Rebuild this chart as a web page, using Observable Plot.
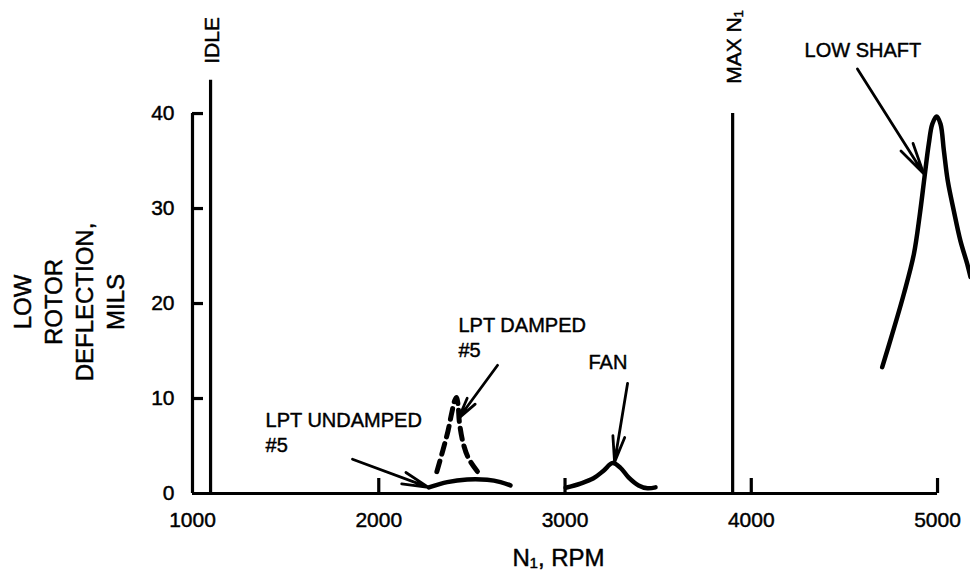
<!DOCTYPE html>
<html>
<head>
<meta charset="utf-8">
<script src="https://cdn.jsdelivr.net/npm/d3@7"></script>
<script src="https://cdn.jsdelivr.net/npm/@observablehq/plot@0.6"></script>
<style>
  body { margin: 0; background: #fff; }
  #chart svg { display: block; }
</style>
</head>
<body>
<div id="chart"></div>
<script>
// ---- tick values / labels ----
const xTicks = [1000, 2000, 3000, 4000, 5000];
const yTicks = [0, 10, 20, 30, 40];

// ---- curves (RPM, deflection in mils) ----
const lowShaft = [
  [4703, 13.3], [4757, 16.8], [4819, 21.0], [4873, 25.2], [4905, 29.4],
  [4930, 33.3], [4953, 36.8], [4972, 38.9], [4995, 39.7], [5016, 38.9],
  [5034, 36.1], [5055, 32.9], [5087, 29.8], [5123, 26.6], [5159, 24.2], [5177, 22.8]
];
const fan = [
  [3003, 0.6], [3083, 1.05], [3153, 1.6], [3207, 2.4], [3255, 3.2],
  [3298, 2.7], [3341, 1.7], [3395, 0.85], [3443, 0.55], [3486, 0.65]
];
const lptUndamped = [
  [2269, 0.65], [2368, 1.2], [2475, 1.47], [2582, 1.44], [2654, 1.2], [2707, 0.85]
];
const lptDamped = [
  [2312, 2.3], [2345, 4.6], [2372, 6.6], [2392, 8.5], [2408, 9.8], [2418, 10.1],
  [2426, 9.3], [2433, 7.5], [2452, 5.4], [2482, 3.7], [2530, 2.3]
];

// ---- reference lines ----
const refRpm = [1097, 3900];
const refTop = [43.5, 40];
const refLabel = ["IDLE", "MAX N\u2081"];
const refLabelY = [47.7, 47.0];

// ---- annotations ----
const noteText = ["LOW SHAFT", "LPT DAMPED", "#5", "LPT UNDAMPED", "#5", "FAN"];
const noteX = [4286, 2428, 2428, 1392, 1392, 3126];
const noteY = [46.6, 17.7, 15.0, 7.7, 5.0, 13.8];

const arrowFrom = [[4570, 44.7], [2638, 13.5], [1859, 3.6], [3336, 11.6]];
const arrowTo   = [[4925, 33.7], [2428, 7.9], [2267, 0.65], [3266, 3.3]];

// ---- titles ----
const yTitle = "LOW\nROTOR\nDEFLECTION,\nMILS";
const xTitle = "N\u2081, RPM";

const toPts = (arr) => arr.map(([x, y]) => ({x, y}));
const refs = refRpm.map((rpm, i) => ({rpm, top: refTop[i], label: refLabel[i], ly: refLabelY[i]}));
const notes = noteText.map((t, i) => ({t, x: noteX[i], y: noteY[i]}));
const arrows = arrowFrom.map((f, i) => ({x1: f[0], y1: f[1], x2: arrowTo[i][0], y2: arrowTo[i][1]}));

const FONT = "'Liberation Sans', Arial, Helvetica, sans-serif";
const TXT = {fill: "#000", stroke: "#000", strokeWidth: 0.45, fontFamily: FONT};
const [x0, x1] = d3.extent(xTicks);
const [y0, y1] = d3.extent(yTicks);

const chart = Plot.plot({
  width: 970,
  height: 576,
  marginLeft: 192,
  marginRight: 0,
  marginTop: 0,
  marginBottom: 83,
  x: {domain: [1000, 5177], axis: null},
  y: {domain: [0, 51.9], axis: null},
  style: {fontFamily: FONT, background: "#fff", color: "#000"},
  marks: [
    // axes
    Plot.ruleY([y0], {x1: x0, x2: x1, stroke: "#000", strokeWidth: 3.2}),
    Plot.ruleX([x0], {y1: y0, y2: y1, stroke: "#000", strokeWidth: 3.2}),
    Plot.ruleX(xTicks.slice(1), {x: d => d, y1: 0, y2: 0, insetTop: -15, stroke: "#000", strokeWidth: 3.2}),
    Plot.ruleY(yTicks.slice(1), {y: d => d, x1: x0, x2: x0, insetRight: -11, stroke: "#000", strokeWidth: 3.2}),
    Plot.text(xTicks, {x: d => d, y: 0, dy: 27, text: d => String(d), fontSize: 21, ...TXT}),
    Plot.text(yTicks, {x: x0, y: d => d, dx: -18, text: d => String(d), textAnchor: "end", fontSize: 21, ...TXT}),
    // titles
    Plot.text([yTitle], {frameAnchor: "left", dx: -125, dy: 55, rotate: -90, text: d => d, textAnchor: "middle", lineAnchor: "middle", lineHeight: 1.3, fontSize: 24, ...TXT}),
    Plot.text([xTitle], {frameAnchor: "bottom", dx: -23, dy: 72, text: d => d, fontSize: 24, ...TXT}),
    // reference lines
    Plot.ruleX(refs, {x: "rpm", y1: 0, y2: "top", stroke: "#000", strokeWidth: 3.2}),
    Plot.text(refs, {x: "rpm", y: "ly", dx: 2, text: "label", rotate: -90, textAnchor: "middle", lineAnchor: "middle", fontSize: 21, ...TXT}),
    // curves
    Plot.line(toPts(lowShaft), {x: "x", y: "y", stroke: "#000", strokeWidth: 4.5, curve: "catmull-rom", strokeLinecap: "round"}),
    Plot.line(toPts(fan), {x: "x", y: "y", stroke: "#000", strokeWidth: 4.5, curve: "catmull-rom", strokeLinecap: "round"}),
    Plot.line(toPts(lptUndamped), {x: "x", y: "y", stroke: "#000", strokeWidth: 4.5, curve: "catmull-rom", strokeLinecap: "round"}),
    Plot.line(toPts(lptDamped), {x: "x", y: "y", stroke: "#000", strokeWidth: 5, curve: "catmull-rom", strokeDasharray: "11,7", strokeLinecap: "round"}),
    // annotations
    Plot.arrow(arrows, {x1: "x1", y1: "y1", x2: "x2", y2: "y2", stroke: "#000", strokeWidth: 2.8, headLength: 17, headAngle: 26}),
    Plot.text(notes, {x: "x", y: "y", text: "t", textAnchor: "start", lineAnchor: "middle", fontSize: 20, ...TXT})
  ]
});

document.getElementById("chart").appendChild(chart);
</script>
</body>
</html>
